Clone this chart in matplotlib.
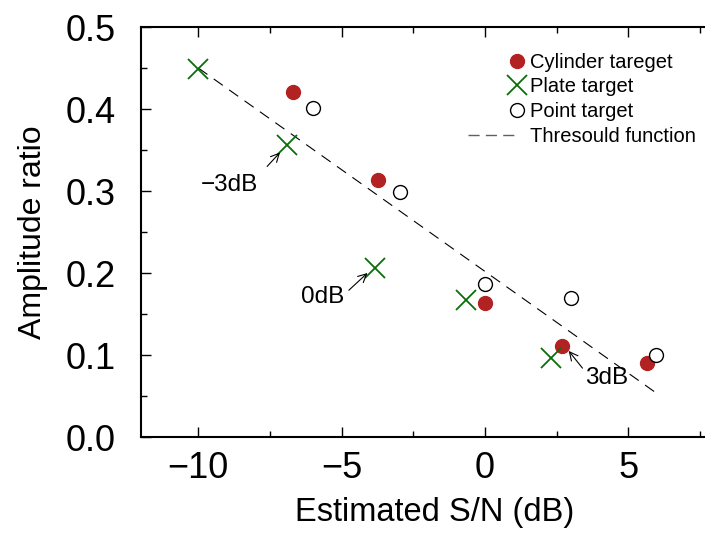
import numpy as np
import matplotlib
matplotlib.use('Agg')
from matplotlib import pyplot as plt
from matplotlib.legend_handler import HandlerLine2DCompound

plt.rcParams['font.family'] = ['Liberation Sans', 'DejaVu Sans']

# measured points
cyl_x = [-6.7, -3.75, 0.0, 2.7, 5.65]
cyl_y = [0.421, 0.313, 0.163, 0.111, 0.090]
plate_x = [-10.0, -6.9, -3.85, -0.65, 2.3]
plate_y = [0.449, 0.356, 0.206, 0.167, 0.096]
point_x = [-6.0, -2.95, 0.0, 3.0, 5.95]
point_y = [0.401, 0.299, 0.186, 0.170, 0.100]

# threshold line end points
thr_x = [-10.0, 6.0]
thr_y = [0.450, 0.053]

# labels: text position, arrow tail, arrow head
notes = [
    ('\u22123dB', (-8.9, 0.307), (-7.6, 0.330), (-7.15, 0.347)),
    ('0dB', (-5.65, 0.171), (-4.75, 0.179), (-4.1, 0.200)),
    ('3dB', (4.25, 0.072), (3.4, 0.084), (2.92, 0.105)),
]


class RightMarkerHandler(HandlerLine2DCompound):
    # put the single marker at the right end of the handle box
    def get_xdata(self, legend, xdescent, ydescent, width, height, fontsize):
        xdata = [-xdescent, -xdescent + width]
        return xdata, [-xdescent + width - 0.5 * fontsize]


class ShortLineHandler(HandlerLine2DCompound):
    # trim the dashed sample a little at both ends
    def get_xdata(self, legend, xdescent, ydescent, width, height, fontsize):
        xdata = [-xdescent + 0.45 * fontsize, -xdescent + width - 0.6 * fontsize]
        return xdata, xdata


fig = plt.figure(figsize=(7.05, 5.37), dpi=100)
ax = fig.add_axes([0.2, 0.1862, 0.8336, 0.7635])

ax.plot(thr_x, thr_y, color='black', linestyle=(0, (10, 7)), linewidth=0.8,
        zorder=1)
h1, = ax.plot(cyl_x, cyl_y, 'o', color='#b22222', markersize=10,
              linestyle='none', label='Cylinder tareget', zorder=3)
h2, = ax.plot(plate_x, plate_y, 'x', color='#0a6e0a', markersize=14, mew=1.3,
              linestyle='none', label='Plate target', zorder=3)
h3, = ax.plot(point_x, point_y, 'o', mfc='white', mec='black', markersize=10,
              mew=1.0, linestyle='none', label='Point target', zorder=3)
# legend entry for the dashed line is drawn grey
h4, = ax.plot([], [], color='#606060', linestyle=(0, (8, 4.5)), linewidth=1.0,
              label='Thresould function')

for txt, tpos, tail, head in notes:
    ax.annotate('', xy=head, xytext=tail,
                arrowprops=dict(arrowstyle='->, head_length=0.6, head_width=0.3',
                                color='black', lw=0.8, shrinkA=0, shrinkB=0))
    ax.text(tpos[0], tpos[1], txt, fontsize=17.5, ha='center', va='center')

ax.set_xlim(-12, 8.5)
ax.set_ylim(0, 0.5)
ax.set_xticks([-10, -5, 0, 5])
ax.set_xticklabels(['\u221210', '\u22125', '0', '5'])
ax.set_xticks(np.arange(-10, 8, 2.5), minor=True)
ax.set_yticks(np.arange(0, 0.51, 0.1))
ax.set_yticklabels(['0.0', '0.1', '0.2', '0.3', '0.4', '0.5'])
ax.set_yticks(np.arange(0, 0.51, 0.05), minor=True)
ax.tick_params(which='both', direction='in', top=True, right=True,
               labelsize=26, width=1.0)
ax.tick_params(which='major', length=7)
ax.tick_params(which='minor', length=4)
ax.tick_params(axis='y', which='major', pad=18)
ax.tick_params(axis='x', which='major', pad=10)
for s in ax.spines.values():
    s.set_linewidth(1.5)

ax.set_xlabel('Estimated S/N (dB)', fontsize=23.5, labelpad=8)
ax.set_ylabel('Amplitude ratio', fontsize=23, labelpad=13)

ax.legend(handles=[h1, h2, h3, h4], loc='upper left',
          bbox_to_anchor=((459 / 705 - 0.2) / 0.8336, 0.937),
          frameon=False, fontsize=14.5, handlelength=3.4, handletextpad=0.15,
          labelspacing=0.28, borderaxespad=0.0, borderpad=0.0,
          handler_map={h1: RightMarkerHandler(), h2: RightMarkerHandler(),
                       h3: RightMarkerHandler(), h4: ShortLineHandler()})

fig.savefig('out.png', dpi=100)
